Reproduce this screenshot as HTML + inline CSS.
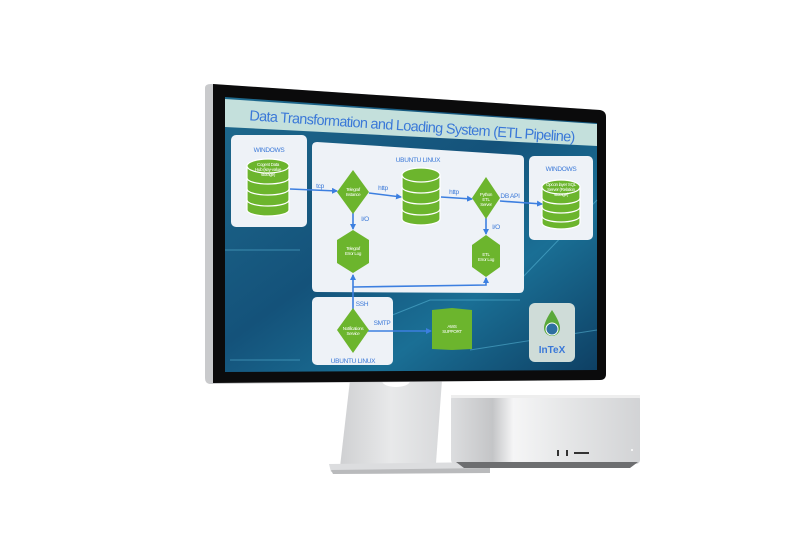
<!DOCTYPE html>
<html><head><meta charset="utf-8"><style>
html,body{margin:0;padding:0;background:#fff;width:800px;height:560px;overflow:hidden}
svg{display:block}
text{font-family:"Liberation Sans",sans-serif}
</style></head><body>
<svg width="800" height="560" viewBox="0 0 800 560" xmlns="http://www.w3.org/2000/svg">
<defs>
<linearGradient id="scr" x1="0" y1="0" x2="1" y2="1">
<stop offset="0" stop-color="#1e6a8e"/><stop offset="0.45" stop-color="#14527a"/><stop offset="0.7" stop-color="#1a6f95"/><stop offset="1" stop-color="#0e3f63"/>
</linearGradient>
<linearGradient id="mac" x1="0" y1="0" x2="1" y2="0">
<stop offset="0" stop-color="#dcdddf"/><stop offset="0.22" stop-color="#c4c5c7"/><stop offset="0.33" stop-color="#f5f5f6"/><stop offset="0.6" stop-color="#e6e7e8"/><stop offset="1" stop-color="#d2d3d5"/>
</linearGradient>
<linearGradient id="stand" x1="0" y1="0" x2="1" y2="0">
<stop offset="0" stop-color="#cfd0d2"/><stop offset="0.5" stop-color="#e8e9ea"/><stop offset="1" stop-color="#d8d9db"/>
</linearGradient>
<marker id="ar" markerWidth="6" markerHeight="6" refX="5" refY="3" orient="auto" markerUnits="userSpaceOnUse"><path d="M0,0 L6,3 L0,6 Z" fill="#3c7fe0"/></marker>
</defs>

<!-- stand -->
<path d="M350,380 L442,380 L436,463 L340,467 Z" fill="url(#stand)"/>
<path d="M329,464 L490,462 L490,470 L331,472 Z" fill="#dcdddf"/>
<path d="M331,470 L490,468 L490,473 L333,474 Z" fill="#b9babc"/>
<ellipse cx="396" cy="381" rx="14" ry="6" fill="#fff"/>

<!-- mac studio -->
<rect x="451" y="395" width="189" height="69" rx="4" fill="url(#mac)"/>
<rect x="451" y="395" width="189" height="3" fill="#eee"/>
<path d="M456,462 L638,462 L630,468 L464,468 Z" fill="#6d6e70"/>
<rect x="557" y="450" width="2" height="6" fill="#333"/>
<rect x="566" y="450" width="2" height="6" fill="#333"/>
<rect x="574" y="452" width="15" height="2" fill="#333"/>
<circle cx="632" cy="450" r="1" fill="#fff"/>

<!-- monitor bezel -->
<path d="M205,88 Q205,84 211,84 L600,110 Q606,111 606,117 L606,374 Q606,380 600,380 L211,384 Q205,384 205,378 Z" fill="#c9cacc"/>
<path d="M213,84 L600,110 Q606,111 606,117 L606,374 Q606,380 600,380 L213,383 Z" fill="#0b0b0c"/>
<!-- screen -->
<path d="M225,97 L597,123 L597,370 L225,372 Z" fill="url(#scr)"/>
<g stroke="#5fc0e0" stroke-width="1" opacity="0.5" fill="none">
<path d="M225,250 L300,250"/><path d="M380,320 L430,300 L520,300"/><path d="M520,280 L597,200"/><path d="M470,350 L597,330"/><path d="M230,360 L300,360"/>
</g>
<!-- title band -->
<path d="M225,99 L597,124 L597,146 L225,127 Z" fill="#c4e0dc"/>
<text x="412" y="131" font-size="14.5" fill="#3a78d8" text-anchor="middle" transform="rotate(3.8 412 127)" letter-spacing="-0.7">Data Transformation and Loading System (ETL Pipeline)</text>

<!-- boxes -->
<rect x="231" y="135" width="76" height="92" rx="5" fill="#eef2f7"/>
<path d="M317,142 L519,155 Q524,155 524,160 L524,288 Q524,293 519,293 L317,292 Q312,292 312,287 L312,147 Q312,142 317,142 Z" fill="#eef2f7"/>
<rect x="529" y="156" width="64" height="84" rx="5" fill="#eef2f7"/>
<rect x="312" y="297" width="81" height="68" rx="5" fill="#eef2f7"/>
<rect x="529" y="303" width="46" height="59" rx="6" fill="#cfdcd8"/>

<g font-size="6.5" fill="#3a78d8" text-anchor="middle" letter-spacing="-0.3">
<text x="269" y="152">WINDOWS</text>
<text x="418" y="162">UBUNTU LINUX</text>
<text x="561" y="171">WINDOWS</text>
<text x="353" y="363">UBUNTU LINUX</text>
<text x="320" y="188">tcp</text>
<text x="383" y="190">http</text>
<text x="454" y="194">http</text>
<text x="510" y="198">DB API</text>
<text x="365" y="221">I/O</text>
<text x="496" y="229">I/O</text>
<text x="362" y="306">SSH</text>
<text x="382" y="325">SMTP</text>
</g>

<!-- DBs -->
<g fill="#6cb52d" stroke="#fff" stroke-width="1.2">
<path d="M247,166 L247,210 A21,6 0 0 0 289,210 L289,166 Z"/>
<ellipse cx="268" cy="166" rx="21" ry="7"/>
<path d="M247,178 A21,6 0 0 0 289,178 M247,189 A21,6 0 0 0 289,189 M247,200 A21,6 0 0 0 289,200" fill="none"/>
<path d="M402,175 L402,219 A19,6 0 0 0 440,219 L440,175 Z"/>
<ellipse cx="421" cy="175" rx="19" ry="7"/>
<path d="M402,187 A19,6 0 0 0 440,187 M402,198 A19,6 0 0 0 440,198 M402,209 A19,6 0 0 0 440,209" fill="none"/>
<path d="M542,187 L542,223 A19,6 0 0 0 580,223 L580,187 Z"/>
<ellipse cx="561" cy="187" rx="19" ry="7"/>
<path d="M542,198 A19,6 0 0 0 580,198 M542,207 A19,6 0 0 0 580,207 M542,216 A19,6 0 0 0 580,216" fill="none"/>
</g>
<!-- arrows -->
<g stroke="#3c7fe0" stroke-width="1.6" fill="none" marker-end="url(#ar)">
<path d="M290,189 L337,191"/>
<path d="M369,193 L401,197"/>
<path d="M441,197 L472,199"/>
<path d="M500,201 L542,204"/>
<path d="M353,213 L353,229"/>
<path d="M486,218 L486,234"/>
<path d="M353,310 L353,275"/>
<path d="M353,287 L486,285 L486,278"/>
<path d="M368,331 L431,331"/>
</g>
<!-- diamonds/hexagons -->
<g fill="#6cb52d">
<path d="M353,170 L369,192 L353,214 L337,192 Z"/>
<path d="M486,177 L500,198 L486,219 L472,198 Z"/>
<path d="M353,308 L369,330 L353,353 L337,330 Z"/>
<path d="M353,230 L369,240 L369,263 L353,273 L337,263 L337,240 Z"/>
<path d="M486,235 L500,245 L500,267 L486,277 L472,267 L472,245 Z"/>
<path d="M432,310 L452,308 L472,310 L472,349 L452,350 L432,349 Z"/>
</g>
<g font-size="4.5" fill="#fff" text-anchor="middle" letter-spacing="-0.3">
<text x="268" y="166">Cogent Data</text><text x="268" y="171">Hub (key-value</text><text x="268" y="176">storage)</text>
<text x="353" y="191">Telegraf</text><text x="353" y="196">Instance</text>
<text x="486" y="196">Python</text><text x="486" y="201">ETL</text><text x="486" y="206">Server</text>
<text x="561" y="186">Opcon layer SQL</text><text x="561" y="191">Server (Relation</text><text x="561" y="196">storage)</text>
<text x="353" y="250">Telegraf</text><text x="353" y="255">Error Log</text>
<text x="486" y="256">ETL</text><text x="486" y="261">Error Log</text>
<text x="353" y="330">Notifications</text><text x="353" y="335">Service</text>
<text x="452" y="328">AWS</text><text x="452" y="333">SUPPORT</text>
</g>
<!-- InTeX logo -->
<path d="M552,310 Q560,322 560,328 A8,8 0 0 1 544,328 Q544,322 552,310 Z" fill="#5aa83a"/>
<circle cx="552" cy="329" r="6" fill="#2e6fa0" stroke="#fff" stroke-width="1"/>
<text x="552" y="353" font-size="10" fill="#3a78d8" text-anchor="middle" font-weight="bold">InTeX</text>
</svg>
</body></html>
